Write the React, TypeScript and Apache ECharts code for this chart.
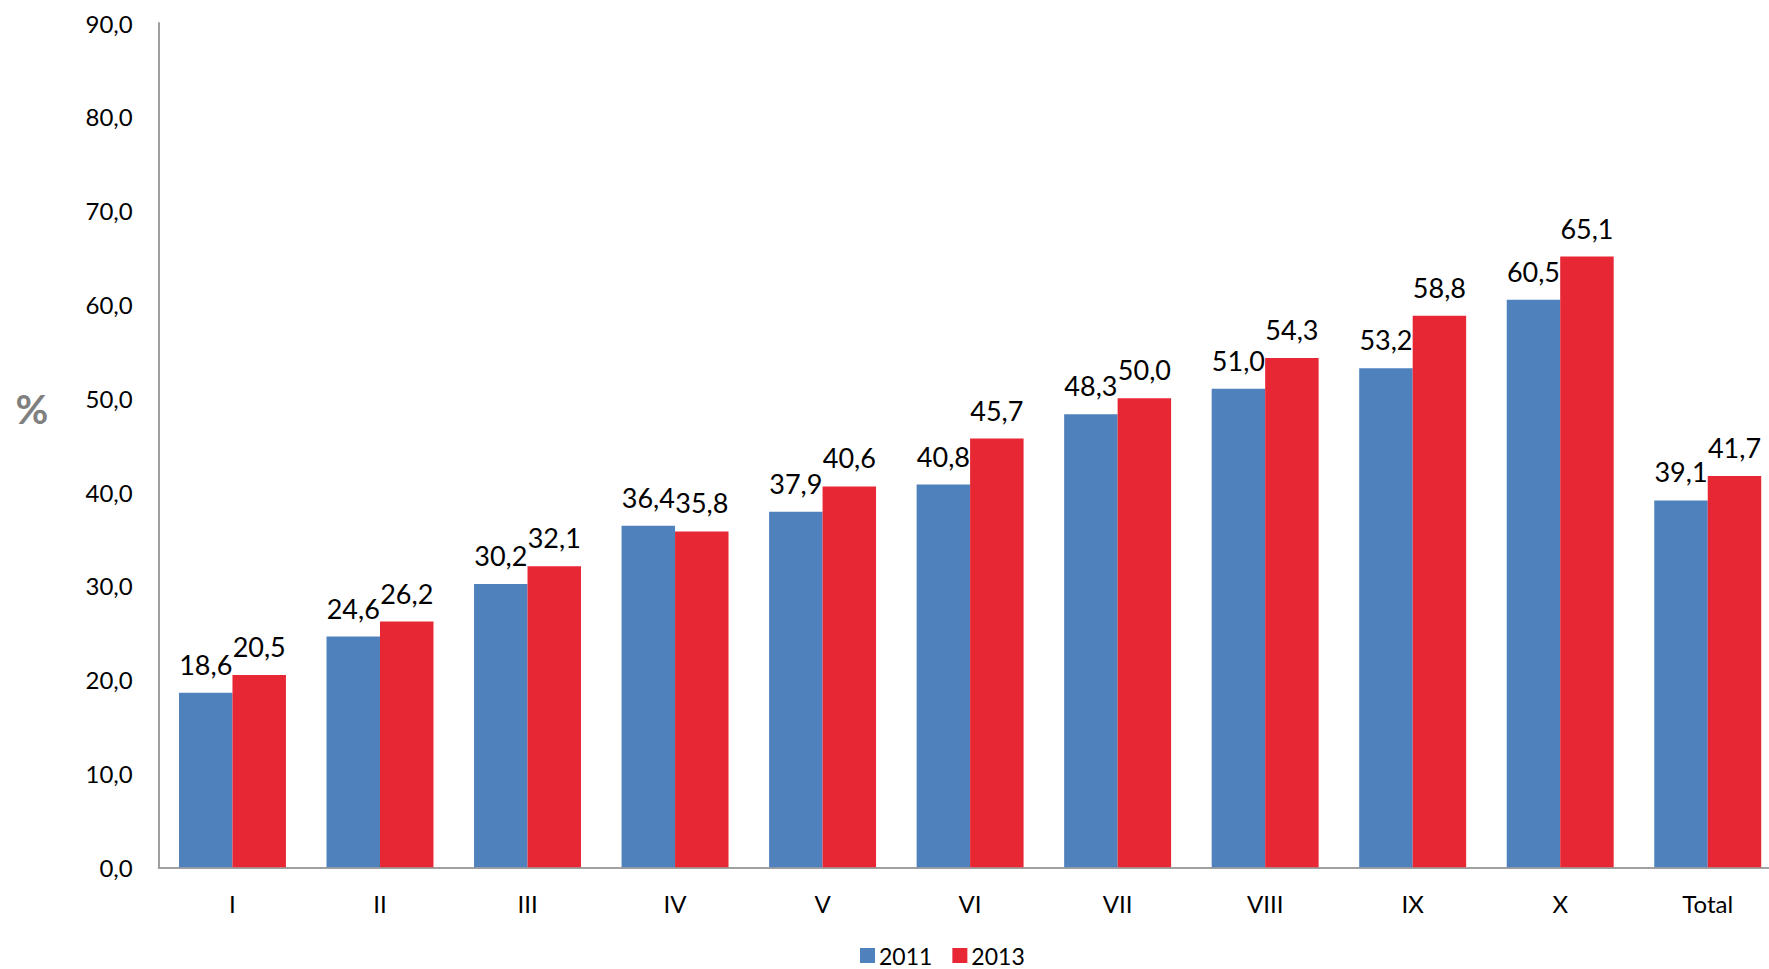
import React, { useEffect, useRef } from "react";
import * as echarts from "echarts";

const categories = ["I", "II", "III", "IV", "V", "VI", "VII", "VIII", "IX", "X", "Total"];
const values2011 = [18.6, 24.6, 30.2, 36.4, 37.9, 40.8, 48.3, 51.0, 53.2, 60.5, 39.1];
const values2013 = [20.5, 26.2, 32.1, 35.8, 40.6, 45.7, 50.0, 54.3, 58.8, 65.1, 41.7];
const seriesNames = ["2011", "2013"];
const colors = ["#4F81BD", "#E82734"];

const fmt = (v: number) => v.toFixed(1).replace(".", ",");
const FONT = "Lato, 'Open Sans', sans-serif";

export default function App() {
  const ref = useRef<HTMLDivElement>(null);
  useEffect(() => {
    if (!ref.current) return;
    const chart = echarts.init(ref.current, null, { renderer: "svg" });
    const label = {
      show: true,
      position: "top" as const,
      distance: 15,
      color: "#000",
      fontSize: 27,
      fontFamily: FONT,
      formatter: (p: any) => fmt(p.value),
    };
    chart.setOption({
      animation: false,
      backgroundColor: "#fff",
      textStyle: { fontFamily: FONT },
      grid: { left: 158.7, top: 23, width: 1622.8, height: 844.3, containLabel: false },
      graphic: [
        {
          type: "text",
          x: 32,
          y: 409,
          style: {
            text: "%",
            fontSize: 40,
            fontWeight: "bold",
            fontFamily: FONT,
            fill: "#808080",
            align: "center",
            verticalAlign: "middle",
          },
        },
      ],
      legend: {
        data: seriesNames,
        left: 860,
        top: 944,
        padding: 0,
        icon: "rect",
        itemWidth: 15,
        itemHeight: 15,
        itemGap: 20,
        textStyle: { fontSize: 23, lineHeight: 20, color: "#000", fontFamily: FONT, padding: [0, 0, 0, -1] },
      },
      xAxis: {
        type: "category",
        data: categories,
        axisLine: { lineStyle: { color: "#A0A0A0", width: 2 } },
        axisTick: { show: false },
        axisLabel: { color: "#000", fontSize: 24, fontFamily: FONT, margin: 24 },
      },
      yAxis: {
        type: "value",
        min: 0,
        max: 90,
        interval: 10,
        axisLine: { show: true, lineStyle: { color: "#A0A0A0", width: 2 } },
        axisTick: { show: false },
        splitLine: { show: false },
        axisLabel: { color: "#000", fontSize: 24, fontFamily: FONT, margin: 26, formatter: (v: number) => fmt(v) },
      },
      series: [
        {
          name: seriesNames[0],
          type: "bar",
          data: values2011,
          itemStyle: { color: colors[0] },
          barGap: "0%",
          barCategoryGap: "27.5%",
          label,
        },
        {
          name: seriesNames[1],
          type: "bar",
          data: values2013,
          itemStyle: { color: colors[1] },
          label,
        },
      ],
    });
    return () => chart.dispose();
  }, []);
  return (
    <div style={{ position: "absolute", left: 0, top: 0, width: 1769, height: 969, overflow: "hidden", background: "#fff" }}>
      <div ref={ref} style={{ position: "absolute", left: 0, top: 0, width: 1800, height: 969 }} />
    </div>
  );
}
